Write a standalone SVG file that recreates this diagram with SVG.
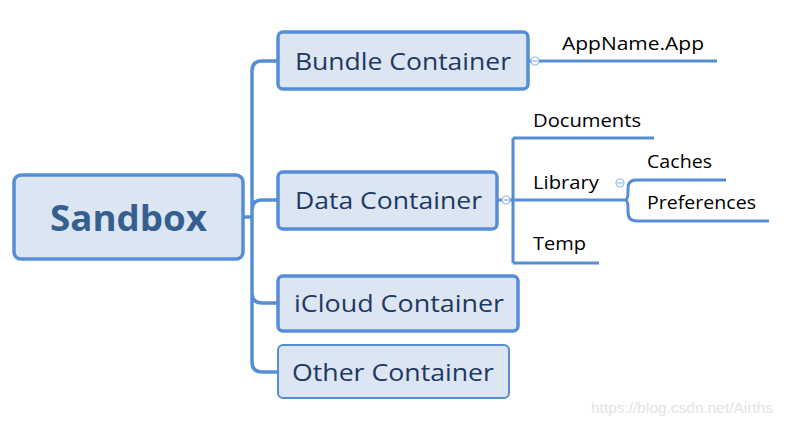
<svg xmlns="http://www.w3.org/2000/svg" width="791" height="426" viewBox="0 0 791 426">
<style>
.box{fill:#dce6f2;stroke:#558ed5;stroke-width:3.5}
.thin{stroke-width:2}
.lbl{font-family:"Open Sans","Liberation Sans",sans-serif;font-size:24px;fill:#1f3864}
.sub{font-family:"Open Sans","Liberation Sans",sans-serif;font-size:18px;fill:#000}
.ln{fill:none;stroke:#558ed5;stroke-width:3.5;stroke-linecap:butt}
.ln2{fill:none;stroke:#558ed5;stroke-width:3}
.col{fill:#fff;stroke:#8eb4e3;stroke-width:1.2}
.colm{stroke:#8eb4e3;stroke-width:1.2}
</style>
<rect width="791" height="426" fill="#fff"/>
<g id="connectors">
<path class="ln" d="M243 217 H252 M278 61 H262 Q252 61 252 71 V362 Q252 372 262 372 H278 M252 210 Q252 200 262 200 H278 M252 293 Q252 303 262 303 H278"/>
<path class="ln2" d="M528 61 H550 M550 61 H717"/>
<path class="ln2" d="M497 200 H513 M513 138 V263 M513 138 H654 M513 200 H625 M513 263 H599"/>
<path class="ln2" d="M625 200 Q628 200 628 192 V188 Q628 180 636 180 H726 M625 200 Q628 200 628 208 V212 Q628 221 637 221 H769"/>
<circle class="col" cx="535" cy="61" r="4"/><path class="colm" d="M532.5 61 H537.5"/>
<circle class="col" cx="506" cy="200" r="4"/><path class="colm" d="M503.5 200 H508.5"/>
<circle class="col" cx="620" cy="183" r="4"/><path class="colm" d="M617.5 183 H622.5"/>
</g>
<g id="sandbox">
<rect class="box" x="14" y="175" width="229" height="84" rx="7"/>
<text x="50" y="231" font-family="'Open Sans','Liberation Sans',sans-serif" font-size="35" font-weight="bold" fill="#365f91" textLength="157" lengthAdjust="spacingAndGlyphs">Sandbox</text>
</g>
<g id="bundle">
<rect class="box" x="278" y="32" width="250" height="57" rx="5"/>
<text class="lbl" x="295" y="70" textLength="216" lengthAdjust="spacingAndGlyphs">Bundle Container</text>
</g>
<g id="data">
<rect class="box" x="278" y="172" width="219" height="57" rx="5"/>
<text class="lbl" x="295" y="209" textLength="187" lengthAdjust="spacingAndGlyphs">Data Container</text>
</g>
<g id="icloud">
<rect class="box" x="278" y="276" width="240" height="55" rx="5"/>
<text class="lbl" x="294" y="312" textLength="210" lengthAdjust="spacingAndGlyphs">iCloud Container</text>
</g>
<g id="other">
<rect class="box thin" x="278" y="345" width="231" height="53" rx="5"/>
<text class="lbl" x="292" y="381" textLength="202" lengthAdjust="spacingAndGlyphs">Other Container</text>
</g>
<g id="appname"><text class="sub" x="562" y="50" textLength="142" lengthAdjust="spacingAndGlyphs">AppName.App</text></g>
<g id="documents"><text class="sub" x="533" y="127" textLength="108" lengthAdjust="spacingAndGlyphs">Documents</text></g>
<g id="library"><text class="sub" x="533" y="189" textLength="66" lengthAdjust="spacingAndGlyphs">Library</text></g>
<g id="temp"><text class="sub" x="533" y="250" textLength="53" lengthAdjust="spacingAndGlyphs">Temp</text></g>
<g id="caches"><text class="sub" x="647" y="168" textLength="65" lengthAdjust="spacingAndGlyphs">Caches</text></g>
<g id="preferences"><text class="sub" x="647" y="209" textLength="109" lengthAdjust="spacingAndGlyphs">Preferences</text></g>
<text x="591" y="413" font-family="'Liberation Sans',sans-serif" font-size="15" fill="#e3e3e3" textLength="182" lengthAdjust="spacingAndGlyphs">https://blog.csdn.net/Airths</text>
</svg>
